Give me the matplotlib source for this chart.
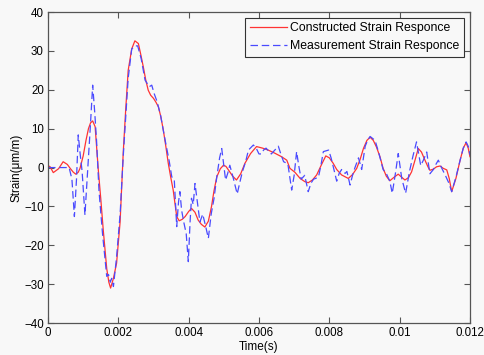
import numpy as np
import matplotlib
matplotlib.use("Agg")
import matplotlib.pyplot as plt

# time in ms, strain in um/m
t_con = [0.0, 0.06, 0.15, 0.30, 0.43, 0.55, 0.63, 0.72, 0.79, 0.86, 0.91, 1.00, 1.08, 1.15, 1.21,
         1.27, 1.34, 1.43, 1.50, 1.57, 1.67, 1.73, 1.78, 1.86, 1.95, 2.05, 2.14, 2.21, 2.28, 2.38,
         2.47, 2.57, 2.64, 2.71, 2.78, 2.85, 2.92, 3.00, 3.07, 3.14, 3.21, 3.28, 3.35, 3.42, 3.49,
         3.56, 3.66, 3.73, 3.82, 3.90, 4.00, 4.08, 4.18, 4.27, 4.36, 4.46, 4.56, 4.65, 4.72, 4.80,
         4.90, 4.99, 5.06, 5.13, 5.25, 5.36, 5.48, 5.60, 5.76, 5.93, 6.10, 6.26, 6.45, 6.64, 6.79,
         6.88, 7.02, 7.17, 7.30, 7.40, 7.52, 7.64, 7.78, 7.90, 8.00, 8.11, 8.21, 8.35, 8.54, 8.66,
         8.78, 8.88, 8.97, 9.07, 9.16, 9.25, 9.34, 9.44, 9.53, 9.62, 9.72, 9.84, 9.96, 10.06, 10.15,
         10.25, 10.34, 10.44, 10.53, 10.62, 10.72, 10.80, 10.86, 10.96, 11.05, 11.15, 11.24, 11.34,
         11.41, 11.48, 11.60, 11.72, 11.81, 11.89, 11.95, 12.0]
y_con = [0.5, 0.2, -1.3, -0.3, 1.5, 0.8, -0.2, -1.2, -1.7, -1.2, -0.2, 3.0, 7.0, 10.0, 11.5,
         12.0, 10.5, -0.6, -8.0, -16.0, -26.0, -29.5, -31.0, -28.5, -24.6, -14.0, 4.0, 15.0, 25.0, 30.5,
         32.6, 31.9, 29.0, 25.9, 22.5, 19.9, 18.6, 17.8, 16.8, 15.6, 13.0, 9.6, 5.5, 1.1, -2.5,
         -5.8, -12.6, -13.7, -13.3, -12.6, -11.3, -10.5, -11.5, -13.5, -14.6, -15.3, -13.8, -10.0, -6.0, -2.4,
         -0.3, 0.6, 0.3, -0.6, -2.2, -3.2, -1.6, 1.1, 3.6, 5.4, 5.0, 4.5, 3.7, 2.8, 1.9,
         -0.2, -1.2, -2.8, -3.6, -3.9, -3.2, -1.9, 0.8, 3.0, 2.5, 1.1, -0.5, -1.9, -2.8, -1.8,
         -0.2, 2.2, 4.9, 7.0, 7.8, 7.0, 5.3, 2.8, -0.2, -2.2, -3.4, -2.5, -1.7, -2.5, -3.2,
         -2.6, -1.1, 2.0, 4.9, 4.0, 1.9, 0.3, -0.7, -0.4, 0.2, 0.4, -0.2, -0.6,
         -2.8, -6.2, -2.8, 1.9, 5.0, 6.4, 5.0, 2.8]

t_mea = [0.0, 0.20, 0.40, 0.60, 0.68, 0.75, 0.81, 0.86, 0.92, 0.97, 1.05, 1.12, 1.20, 1.27,
         1.33, 1.38, 1.45, 1.55, 1.67, 1.72, 1.77, 1.81, 1.86, 1.95, 2.05, 2.14, 2.28, 2.38, 2.47,
         2.55, 2.65, 2.76, 2.88, 2.95, 3.02, 3.10, 3.20, 3.30, 3.37, 3.45, 3.52, 3.59, 3.66, 3.71,
         3.75, 3.80, 3.86, 3.93, 3.99, 4.04, 4.08, 4.13, 4.18, 4.25, 4.32, 4.40, 4.48, 4.56, 4.64,
         4.72, 4.80, 4.88, 4.94, 5.00, 5.05, 5.11, 5.17, 5.26, 5.38, 5.45, 5.53, 5.62, 5.70, 5.84,
         5.92, 6.00, 6.07, 6.13, 6.20, 6.28, 6.35, 6.45, 6.55, 6.62, 6.70, 6.82, 6.93, 7.00, 7.07,
         7.13, 7.20, 7.30, 7.40, 7.48, 7.55, 7.69, 7.76, 7.83, 7.98, 8.05, 8.11, 8.21, 8.28, 8.35,
         8.45, 8.50, 8.59, 8.66, 8.73, 8.83, 8.92, 9.02, 9.09, 9.16, 9.30, 9.40, 9.53, 9.62, 9.72,
         9.79, 9.88, 9.96, 10.06, 10.17, 10.28, 10.38, 10.48, 10.60, 10.68, 10.77, 10.86, 10.96,
         11.03, 11.10, 11.20, 11.30, 11.40, 11.48, 11.60, 11.72, 11.81, 11.89, 11.95, 12.0]
y_mea = [0.0, 0.0, 0.0, 0.0, -3.0, -12.6, -3.0, 8.4, 3.0, -1.0, -12.2, -2.0, 10.0, 21.2,
         14.0, 7.0, -6.0, -17.0, -28.0, -27.5, -29.5, -28.5, -30.6, -23.0, -12.0, 3.0, 23.0, 30.5, 31.3,
         31.3, 28.0, 22.5, 20.8, 21.2, 19.0, 17.0, 13.5, 8.5, 5.3, 1.5, -2.4, -3.0, -15.2, -9.0,
         -6.2, -11.0, -14.0, -17.0, -24.2, -14.0, -7.9, -9.5, -4.1, -9.0, -14.0, -12.0, -15.0, -18.2, -12.0,
         -8.0, -2.4, 2.5, 4.9, 0.5, -3.2, -1.5, 0.6, -2.4, -6.8, -4.0, -1.0, 1.5, 4.5, 5.8,
         5.0, 3.5, 3.5, 4.5, 5.0, 4.2, 3.5, 4.5, 5.5, 3.5, 1.5, 1.0, -5.8, -2.0, 4.1,
         0.5, -3.0, -2.0, -6.2, -4.0, -3.0, -2.5, 0.5, 4.1, 4.5, 2.5, 0.3, -3.5, -1.5, -0.5,
         -1.5, -1.0, -4.5, -2.0, 0.0, 2.5, -0.5, 5.5, 7.0, 8.0, 7.0, 4.0, -0.5, -1.5, -3.5,
         -6.6, -1.5, 3.6, -2.8, -6.6, -1.0, 3.0, 6.6, 0.5, 2.0, 4.0, -1.6, -0.5,
         0.8, 1.9, -0.2, -2.0, -4.0, -6.2, -2.5, 1.9, 5.0, 6.6, 5.5, 3.3]

x_ticks = [0, 0.002, 0.004, 0.006, 0.008, 0.01, 0.012]
x_tick_labels = ["0", "0.002", "0.004", "0.006", "0.008", "0.01", "0.012"]
y_ticks = [-40, -30, -20, -10, 0, 10, 20, 30, 40]

plt.rcParams['font.family'] = ['Liberation Sans', 'DejaVu Sans']
plt.rcParams['font.size'] = 8.5

fig = plt.figure(figsize=(4.85, 3.55), dpi=100, facecolor='#f8f8f8')
ax = fig.add_axes([0.099, 0.090, 0.870, 0.876], facecolor='#f8f8f8')

ax.plot(np.array(t_con) / 1000, y_con, color='#ff3333', lw=0.9,
        label='Constructed Strain Responce')
ax.plot(np.array(t_mea) / 1000, y_mea, color='#4a4aff', lw=0.9,
        dashes=(6, 3), label='Measurement Strain Responce')

ax.set_xlim(0, 0.012)
ax.set_ylim(-40, 40)
ax.set_xticks(x_ticks)
ax.set_xticklabels(x_tick_labels)
ax.set_yticks(y_ticks)
ax.tick_params(direction='in', top=True, right=True, length=4, width=0.8,
               color='#555555', labelsize=8.3, pad=3)
for s in ax.spines.values():
    s.set_color('#555555')
    s.set_linewidth(0.9)

ax.set_xlabel('Time(s)', labelpad=1)
ax.set_ylabel('Strain(μm/m)', labelpad=1)

leg = ax.legend(loc='upper right', fancybox=False, edgecolor='#333333',
                facecolor='#f8f8f8', framealpha=1, handlelength=3.0,
                handletextpad=0.3, borderaxespad=0.45, labelspacing=0.45,
                borderpad=0.4, fontsize=8.8)
leg.get_frame().set_linewidth(0.8)

fig.savefig('out.png', dpi=100, facecolor=fig.get_facecolor())
